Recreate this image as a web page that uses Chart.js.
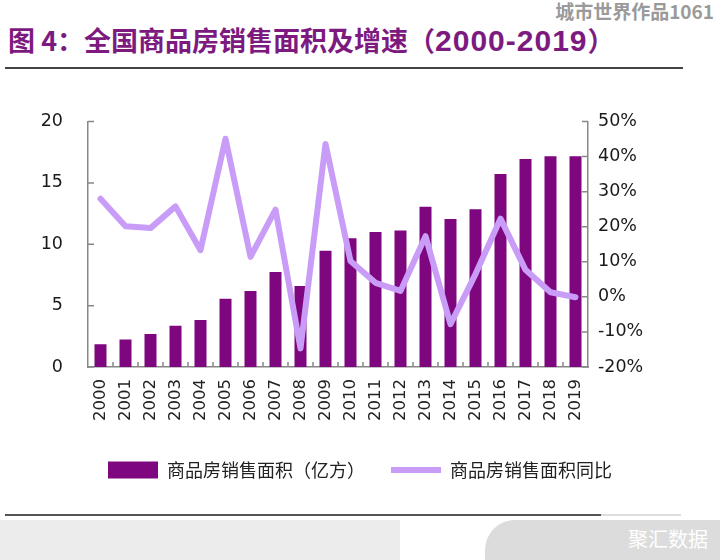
<!DOCTYPE html>
<html>
<head>
<meta charset="utf-8">
<script src="https://cdn.jsdelivr.net/npm/chart.js@4/dist/chart.umd.min.js"></script>
<style>
    body { margin: 0; background: #fff; }
    #page { position: relative; width: 720px; height: 560px; overflow: hidden; background: #fff; }
    #titulo { position: absolute; left: 8px; top: 20px; font-family: "Noto Sans CJK SC"; font-weight: 700; font-size: 27px; color: #7d1a80; white-space: nowrap; }
    #titulo .num { font-family: "Liberation Sans", Arial; font-weight: 700; font-size: 30px; letter-spacing: 1px; }
    #marca { position: absolute; right: 6px; top: -3px; font-family: "Noto Sans CJK SC"; font-weight: 700; font-size: 19px; color: #9a9a9a; text-shadow: 0 0 2px #fff; }
    #lineaTop { position: absolute; left: 5px; top: 67px; width: 678px; height: 2px; background: #444; }
    #caja { position: absolute; left: 0; top: 94px; width: 720px; height: 406px; }
    #lineaBot { position: absolute; left: 5px; top: 514px; width: 596px; height: 2px; background: #555; }
    #lineaBot2 { position: absolute; left: 601px; top: 514px; width: 80px; height: 2px; background: #ddd; }
    #pie1 { position: absolute; left: 0; top: 520px; width: 400px; height: 40px; background: #ececec; }
    #pie2 { position: absolute; left: 485px; top: 520px; width: 235px; height: 40px; background: #dcdcdc; border-top-left-radius: 30px; }
    #pieTxt { position: absolute; right: 12px; top: 524px; font-family: "Noto Sans CJK SC"; font-size: 20px; color: #fff; }
</style>
</head>
<body>
<div id="page">
    <div id="marca">城市世界作品1061</div>
    <div id="titulo">图 4：全国商品房销售面积及增速（<span class="num">2000-2019</span>）</div>
    <div id="lineaTop"></div>
    <div id="caja"><canvas id="chartVentas"></canvas></div>
    <div id="lineaBot"></div>
    <div id="lineaBot2"></div>
    <div id="pie1"></div>
    <div id="pie2"></div>
    <div id="pieTxt">聚汇数据</div>
</div>
<script>
// Datos
const anios = ['2000','2001','2002','2003','2004','2005','2006','2007','2008','2009',
               '2010','2011','2012','2013','2014','2015','2016','2017','2018','2019'];
const areaVentas = [1.86, 2.24, 2.68, 3.37, 3.82, 5.55, 6.19, 7.74, 6.59, 9.47,
                    10.48, 10.99, 11.13, 13.06, 12.06, 12.85, 15.73, 16.94, 17.17, 17.16];
const crecimiento = [28.0, 20.1, 19.6, 25.8, 13.3, 45.1, 11.4, 24.9, -14.7, 43.6,
                     10.2, 4.0, 1.7, 17.3, -7.8, 6.5, 22.3, 7.7, 1.3, -0.1];
const ticksIzq = [0, 5, 10, 15, 20];
const ticksDer = [-20, -10, 0, 10, 20, 30, 40, 50];

// marcas cortas hacia dentro en los ejes
const marcasInternas = {
    id: 'marcasInternas',
    afterDraw(chart) {
        const ctx = chart.ctx;
        const { x, y, y1 } = chart.scales;
        ctx.save();
        ctx.strokeStyle = '#888';
        ctx.lineWidth = 1.5;
        ctx.beginPath();
        y.ticks.forEach((t, i) => {
            const py = y.getPixelForTick(i);
            ctx.moveTo(y.right, py); ctx.lineTo(y.right + 6, py);
        });
        y1.ticks.forEach((t, i) => {
            const py = y1.getPixelForTick(i);
            ctx.moveTo(y1.left, py); ctx.lineTo(y1.left - 6, py);
        });
        for (let i = 0; i < anios.length - 1; i++) {
            const px = (x.getPixelForTick(i) + x.getPixelForTick(i + 1)) / 2;
            ctx.moveTo(px, x.top); ctx.lineTo(px, x.top - 5);
        }
        ctx.stroke();
        ctx.restore();
    }
};

new Chart(document.getElementById('chartVentas'), {
    data: {
        labels: anios,
        datasets: [
            { type: 'bar', label: '商品房销售面积（亿方）', data: areaVentas, backgroundColor: '#7e067f',
              yAxisID: 'y', order: 2, barPercentage: 0.96, categoryPercentage: 0.5, pointStyle: 'rect' },
            { type: 'line', label: '商品房销售面积同比', data: crecimiento, borderColor: '#c99df7',
              backgroundColor: '#c99df7', borderWidth: 6, borderJoinStyle: 'round', borderCapStyle: 'round',
              pointRadius: 0, tension: 0, fill: false, yAxisID: 'y1', order: 1, pointStyle: 'line' }
        ]
    },
    options: {
        responsive: true,
        maintainAspectRatio: false,
        animation: false,
        layout: { padding: { top: 3, left: 0, right: 0, bottom: 11 } },
        plugins: {
            tooltip: { enabled: false },
            legend: {
                position: 'bottom',
                labels: {
                    usePointStyle: true,
                    pointStyleWidth: 50,
                    boxHeight: 17,
                    padding: 26,
                    color: '#222',
                    font: { family: 'Noto Sans CJK SC', size: 18 },
                    sort: (a, b) => a.datasetIndex - b.datasetIndex
                }
            }
        },
        scales: {
            x: {
                offset: true,
                grid: { display: false },
                border: { color: '#888', width: 1.5 },
                ticks: { minRotation: 90, maxRotation: 90, padding: 4, color: '#222',
                         font: { family: 'DejaVu Sans', size: 16.5 } },
                afterFit: s => { s.height = 68; }
            },
            y: {
                position: 'left',
                min: 0, max: 20,
                afterBuildTicks: s => { s.ticks = ticksIzq.map(v => ({ value: v })); },
                grid: { display: false },
                border: { color: '#888', width: 1.5 },
                ticks: { padding: 17, color: '#1a1a1a', font: { family: 'DejaVu Sans', size: 17.5 } },
                afterFit: s => { s.width = 88; }
            },
            y1: {
                position: 'right',
                min: -20, max: 50,
                afterBuildTicks: s => { s.ticks = ticksDer.map(v => ({ value: v })); },
                grid: { display: false },
                border: { color: '#888', width: 1.5 },
                ticks: { padding: 2, color: '#1a1a1a', font: { family: 'DejaVu Sans', size: 17.5 },
                         callback: v => v + '%' },
                afterFit: s => { s.width = 132; }
            }
        }
    },
    plugins: [marcasInternas]
});
</script>
</body>
</html>
